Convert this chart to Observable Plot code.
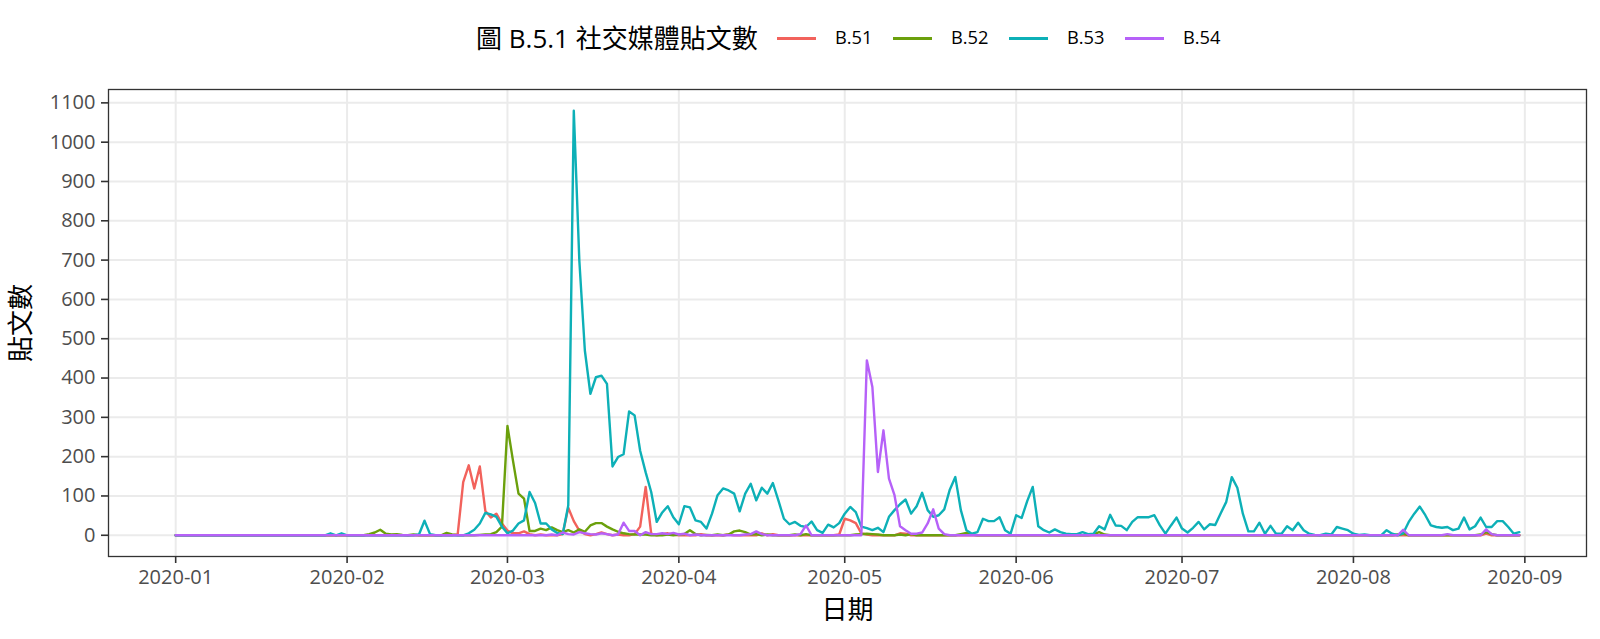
<!DOCTYPE html>
<html><head><meta charset="utf-8">
<script src="https://cdn.jsdelivr.net/npm/d3@7"></script>
<script src="https://cdn.jsdelivr.net/npm/@observablehq/plot@0.6"></script>
<style>
body{margin:0;background:#fff;font-family:"Open Sans","Noto Sans CJK TC",sans-serif;}
#wrap{position:relative;width:1600px;height:639px;overflow:hidden;background:#fff;}
#head{position:relative;width:1600px;height:75px;}
#head .t{position:absolute;white-space:nowrap;line-height:1;color:#000;}
#head .k{position:absolute;height:3px;}
</style></head><body>
<div id="wrap"><div id="head"></div><div id="chart"></div></div>
<script>
const chartTitle = "圖 B.5.1 社交媒體貼文數";
const xLabel = "日期";
const yLabel = "貼文數";
const seriesNames = ["B.51", "B.52", "B.53", "B.54"];
const seriesColors = ["#F2625C", "#6BA00C", "#0DB0B7", "#B661F8"];
const startDate = "2020-01-01";
const endDate = "2020-08-31";
const xTickLabels = ["2020-01","2020-02","2020-03","2020-04","2020-05","2020-06","2020-07","2020-08","2020-09"];
const yTicks = [0,100,200,300,400,500,600,700,800,900,1000,1100];

const B51 = [
0,0,0,0,0,0,0,0,0,0, 0,0,0,0,0,0,0,0,0,0, 0,0,0,0,0,0,0,0,0,0, 0,0,0,0,0,0,0,0,0,0, 0,0,0,0,0,0,0,0,0,0,
0,2,135,178,119,175,62,45,55,30, 12,5,5,10,3,0,2,0,0,0, 3,70,36,12,3,0,3,7,3,0, 2,0,0,3,22,123,4,0,3,5,
2,0,0,0,0,3,0,0,0,0, 2,0,0,0,0,0,5,0,3,0, 0,0,0,0,0,0,0,0,0,0, 2,42,38,31,5,2,0,0,0,0, 0,5,4,0,0,0,0,0,0,0,
0,0,0,0,0,0,0,0,0,0, 0,0,0,0,0,0,0,0,0,0, 0,0,0,0,0,0,0,0,0,0, 0,0,0,0,0,0,0,0,0,0, 0,0,0,0,0,0,0,0,0,0,
0,0,0,0,0,0,0,0,0,0, 0,0,0,0,0,0,0,0,0,0, 0,0,0,0,0,0,0,0,0,0, 0,0,0,0,0,0,0,0,0,0, 0,0,0,0,0,0,0,4,0,0,
0,0,0,0];
const B52 = [
0,0,0,0,0,0,0,0,0,0, 0,0,0,0,0,0,0,0,0,0, 0,0,0,0,0,0,0,0,0,0, 0,0,0,0,0,3,7,14,4,2, 3,1,0,2,0,0,0,0,0,6,
2,0,0,0,0,1,2,3,8,22, 278,190,106,93,11,11,17,13,20,13, 8,13,7,15,9,25,31,31,22,15, 9,5,3,2,2,2,0,0,0,2,
0,2,3,13,3,0,1,0,2,0, 2,10,12,8,2,3,0,2,0,0, 0,0,2,0,3,0,0,0,0,0, 0,0,0,2,3,4,3,2,0,0, 0,2,0,3,0,0,0,0,0,0,
0,0,3,6,2,0,0,0,0,0, 0,0,0,0,0,0,0,0,0,0, 0,0,0,0,0,0,2,8,2,0, 0,0,0,0,0,0,0,0,0,0, 0,0,0,0,0,0,0,0,0,0,
0,0,0,0,0,0,0,0,0,0, 0,0,0,0,0,0,0,0,0,0, 0,0,0,0,0,0,0,0,0,0, 0,2,4,0,0,0,0,0,0,0, 0,0,0,0,0,0,2,8,3,0,
0,0,0,0];
const B53 = [
0,0,0,0,0,0,0,0,0,0, 0,0,0,0,0,0,0,0,0,0, 0,0,0,0,0,0,0,0,5,0, 5,0,0,0,0,0,0,0,0,0, 0,0,0,0,2,37,3,0,0,0,
0,0,0,5,14,30,57,53,47,22, 5,12,30,38,110,82,30,30,15,6, 3,76,1080,699,470,360,402,406,385,175, 199,206,315,305,215,160,110,34,58,74,
46,28,74,71,38,34,17,55,102,119, 114,106,61,106,131,89,121,106,133,89, 42,28,34,24,21,35,13,6,27,20, 31,55,72,59,22,18,13,19,8,47, 64,79,91,55,74,108,64,47,51,66,
116,148,64,13,4,8,42,36,36,46, 13,4,51,44,87,123,23,13,7,15, 8,4,3,3,8,3,4,23,15,52, 25,24,13,34,46,46,46,51,25,4, 25,45,17,7,19,34,15,28,26,56,
85,148,121,55,10,10,32,4,24,4, 4,23,13,32,13,4,1,0,4,2, 21,17,13,4,1,2,0,0,0,13, 4,0,5,34,55,73,51,25,21,19, 21,13,17,45,15,23,45,21,21,36,
36,21,4,8];
const B54 = [
0,0,0,0,0,0,0,0,0,0, 0,0,0,0,0,0,0,0,0,0, 0,0,0,0,0,0,0,0,0,0, 0,0,0,0,0,0,0,0,0,0, 0,0,0,0,0,0,0,0,0,0,
0,0,0,0,0,0,0,0,0,0, 0,0,0,0,0,0,0,0,2,0, 7,3,2,8,5,3,2,5,3,0, 2,32,11,11,0,8,3,3,5,3,
6,2,4,0,2,0,0,0,0,0, 0,0,0,2,3,10,3,0,0,0, 0,0,0,3,25,0,0,0,0,0, 0,0,0,0,0,445,377,161,267,144, 102,23,13,4,4,7,30,66,17,3,
0,0,0,0,0,0,0,0,0,0, 0,0,0,0,0,0,0,0,0,0, 0,0,0,0,0,0,0,0,0,0, 0,0,0,0,0,0,0,0,0,0, 0,0,0,0,0,0,0,0,0,0,
0,0,0,0,0,0,0,0,0,0, 0,0,0,0,0,0,0,0,0,0, 0,0,0,0,0,0,0,0,0,0, 0,0,14,0,0,0,0,0,0,0, 3,0,0,0,0,0,0,15,3,0,
0,0,0,0];

const seriesValues = [B51, B52, B53, B54];
const days = d3.utcDay.range(new Date(startDate + "T00:00Z"), d3.utcDay.offset(new Date(endDate + "T00:00Z"), 1));
const data = [];
seriesNames.forEach((s, i) => {
  seriesValues[i].forEach((v, j) => { if (j < days.length) data.push({date: days[j], value: v, series: s}); });
});
const xTicks = xTickLabels.map(s => new Date(s + "-01T00:00Z"));

// ggplot-style 5% expansion
const t0 = days[0].getTime(), t1 = days[days.length - 1].getTime();
const pad = (t1 - t0) * 0.05;
const yMax = d3.max(data, d => d.value), ypad = yMax * 0.05;

const FONT = '"Open Sans","Noto Sans CJK TC",sans-serif';
// header: title + legend
const head = document.getElementById("head");
function addText(txt, left, top, size) {
  const el = document.createElement("div");
  el.className = "t"; el.textContent = txt;
  el.style.left = left + "px"; el.style.top = top + "px"; el.style.fontSize = size + "px";
  el.style.fontFamily = FONT;
  head.appendChild(el); return el;
}
addText(chartTitle, 476, 25, 26);
seriesNames.forEach((s, i) => {
  const k = document.createElement("div");
  k.className = "k";
  k.style.left = (777 + i * 116) + "px"; k.style.top = "36.5px"; k.style.width = "39px";
  k.style.background = seriesColors[i];
  head.appendChild(k);
  addText(s, 835 + i * 116, 28.3, 18.3);
});

const chart = Plot.plot({
  width: 1600, height: 564,
  marginTop: 14, marginBottom: 83, marginLeft: 108, marginRight: 14,
  style: {fontFamily: FONT, background: "#fff", overflow: "visible"},
  x: {type: "utc", domain: [new Date(t0 - pad), new Date(t1 + pad)]},
  y: {domain: [-ypad, yMax + ypad]},
  color: {domain: seriesNames, range: seriesColors},
  marks: [
    Plot.gridX(xTicks, {stroke: "#EBEBEB", strokeOpacity: 1, strokeWidth: 2}),
    Plot.gridY(yTicks, {stroke: "#EBEBEB", strokeOpacity: 1, strokeWidth: 2}),
    Plot.line(data, {x: "date", y: "value", z: "series", stroke: "series", strokeWidth: 2.4, strokeLinejoin: "round"}),
    Plot.frame({stroke: "#333333", strokeWidth: 1.3}),
    Plot.axisX(xTicks, {tickFormat: d3.utcFormat("%Y-%m"), tickSize: 7, tickPadding: 6, stroke: "#333333", strokeWidth: 1.6, fill: "#4D4D4D", fontSize: 20, label: null}),
    Plot.axisY(yTicks, {tickFormat: d => String(d), tickSize: 7, tickPadding: 6, stroke: "#333333", strokeWidth: 1.6, fill: "#4D4D4D", fontSize: 20, label: null}),
    Plot.text([xLabel], {text: d => d, frameAnchor: "bottom", lineAnchor: "middle", textAnchor: "middle", dy: 54, fontSize: 26, fill: "#000"}),
    Plot.text([yLabel], {text: d => d, frameAnchor: "left", lineAnchor: "middle", textAnchor: "middle", dx: -87, rotate: -90, fontSize: 26, fill: "#000"})
  ]
});
document.getElementById("chart").appendChild(chart);
</script>
</body></html>
